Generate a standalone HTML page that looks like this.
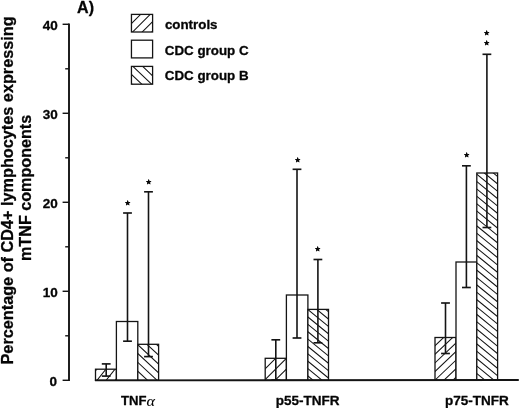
<!DOCTYPE html>
<html><head><meta charset="utf-8"><title>A)</title>
<style>
html,body{margin:0;padding:0;background:#fff;}
body{width:520px;height:408px;overflow:hidden;}
svg{display:block;will-change:transform;opacity:0.999;}
text{font-family:"Liberation Sans",Arial,Helvetica,sans-serif;font-weight:bold;fill:#050505;stroke:#050505;stroke-width:0.3px;stroke-linejoin:round;}
</style></head><body>
<svg width="520" height="408" viewBox="0 0 520 408">
<rect width="520" height="408" fill="#fff"/>

<g stroke="#141414" stroke-width="1.7" fill="none" stroke-linecap="butt">
<path d="M69.00,23.55 V381.10" stroke-width="1.9"/>
<path d="M62.60,380.30 H69.00" stroke-width="1.45"/>
<path d="M62.60,291.30 H69.00" stroke-width="1.45"/>
<path d="M62.60,202.30 H69.00" stroke-width="1.45"/>
<path d="M62.60,113.30 H69.00" stroke-width="1.45"/>
<path d="M62.60,24.30 H69.00" stroke-width="1.45"/>
<path d="M65.20,335.80 H69.00" stroke-width="1.4"/>
<path d="M65.20,246.80 H69.00" stroke-width="1.4"/>
<path d="M65.20,157.80 H69.00" stroke-width="1.4"/>
<path d="M65.20,68.80 H69.00" stroke-width="1.4"/>
</g>
<text x="57.0" y="386.05" font-size="13.5" text-anchor="end">0</text>
<text x="57.9" y="297.05" font-size="13.5" text-anchor="end">10</text>
<text x="57.9" y="208.05" font-size="13.5" text-anchor="end">20</text>
<text x="57.9" y="119.05" font-size="13.5" text-anchor="end">30</text>
<text x="57.9" y="30.05" font-size="13.5" text-anchor="end">40</text>
<rect x="95.50" y="369.20" width="20.90" height="11.10" fill="#fff" stroke="none"/>
<clipPath id="c1"><rect x="95.50" y="369.20" width="20.90" height="11.10"/></clipPath>
<path clip-path="url(#c1)" d="M93.50,373.32 L118.40,342.20 M93.50,384.70 L118.40,353.57 M93.50,396.07 L118.40,364.95 M93.50,407.45 L118.40,376.32" stroke="#141414" stroke-width="1.05" fill="none"/>
<rect x="95.50" y="369.20" width="20.90" height="11.10" fill="none" stroke="#141414" stroke-width="1.30"/>
<rect x="116.40" y="321.50" width="21.40" height="58.80" fill="#fff" stroke="none"/>
<rect x="116.40" y="321.50" width="21.40" height="58.80" fill="none" stroke="#141414" stroke-width="1.30"/>
<rect x="137.80" y="344.30" width="20.80" height="36.00" fill="#fff" stroke="none"/>
<clipPath id="c2"><rect x="137.80" y="344.30" width="20.80" height="36.00"/></clipPath>
<path clip-path="url(#c2)" d="M135.80,378.17 L160.60,401.24 M135.80,369.34 L160.60,392.40 M135.80,360.50 L160.60,383.57 M135.80,351.67 L160.60,374.73 M135.80,342.83 L160.60,365.90 M135.80,334.00 L160.60,357.06 M135.80,325.16 L160.60,348.23" stroke="#141414" stroke-width="1.05" fill="none"/>
<rect x="137.80" y="344.30" width="20.80" height="36.00" fill="none" stroke="#141414" stroke-width="1.30"/>
<g stroke="#141414" fill="none">
<path d="M106.20,363.90 V376.10" stroke-width="1.6"/>
<path d="M101.80,363.90 H110.60" stroke-width="1.65"/>
<path d="M101.80,376.10 H110.60" stroke-width="1.65"/>
</g>
<g stroke="#141414" fill="none">
<path d="M127.50,213.00 V341.20" stroke-width="1.6"/>
<path d="M123.10,213.00 H131.90" stroke-width="1.65"/>
<path d="M123.10,341.20 H131.90" stroke-width="1.65"/>
</g>
<text x="127.50" y="204.90" font-size="5.6" text-anchor="middle" style="stroke-width:0.45px">★</text>
<g stroke="#141414" fill="none">
<path d="M148.50,191.80 V356.60" stroke-width="1.6"/>
<path d="M144.10,191.80 H152.90" stroke-width="1.65"/>
<path d="M144.10,356.60 H152.90" stroke-width="1.65"/>
</g>
<text x="148.50" y="183.70" font-size="5.6" text-anchor="middle" style="stroke-width:0.45px">★</text>
<rect x="265.20" y="358.30" width="21.20" height="22.00" fill="#fff" stroke="none"/>
<clipPath id="c3"><rect x="265.20" y="358.30" width="21.20" height="22.00"/></clipPath>
<path clip-path="url(#c3)" d="M263.20,360.10 L288.40,334.90 M263.20,370.80 L288.40,345.60 M263.20,381.50 L288.40,356.30 M263.20,392.20 L288.40,367.00 M263.20,402.90 L288.40,377.70" stroke="#141414" stroke-width="1.05" fill="none"/>
<rect x="265.20" y="358.30" width="21.20" height="22.00" fill="none" stroke="#141414" stroke-width="1.30"/>
<rect x="286.40" y="295.00" width="21.50" height="85.30" fill="#fff" stroke="none"/>
<rect x="286.40" y="295.00" width="21.50" height="85.30" fill="none" stroke="#141414" stroke-width="1.30"/>
<rect x="307.90" y="309.40" width="20.60" height="70.90" fill="#fff" stroke="none"/>
<clipPath id="c4"><rect x="307.90" y="309.40" width="20.60" height="70.90"/></clipPath>
<path clip-path="url(#c4)" d="M305.90,374.34 L330.50,394.52 M305.90,366.96 L330.50,387.14 M305.90,359.58 L330.50,379.76 M305.90,352.20 L330.50,372.38 M305.90,344.82 L330.50,365.00 M305.90,337.44 L330.50,357.62 M305.90,330.06 L330.50,350.24 M305.90,322.68 L330.50,342.86 M305.90,315.30 L330.50,335.48 M305.90,307.92 L330.50,328.10 M305.90,300.54 L330.50,320.72 M305.90,293.16 L330.50,313.34" stroke="#141414" stroke-width="1.05" fill="none"/>
<rect x="307.90" y="309.40" width="20.60" height="70.90" fill="none" stroke="#141414" stroke-width="1.30"/>
<g stroke="#141414" fill="none">
<path d="M275.80,339.80 V380.00" stroke-width="1.6"/>
<path d="M271.40,339.80 H280.20" stroke-width="1.65"/>
<path d="M271.40,380.00 H280.20" stroke-width="1.65"/>
</g>
<g stroke="#141414" fill="none">
<path d="M297.00,169.30 V338.00" stroke-width="1.6"/>
<path d="M292.60,169.30 H301.40" stroke-width="1.65"/>
<path d="M292.60,338.00 H301.40" stroke-width="1.65"/>
</g>
<text x="297.00" y="161.90" font-size="5.6" text-anchor="middle" style="stroke-width:0.45px">★</text>
<g stroke="#141414" fill="none">
<path d="M317.90,259.50 V342.80" stroke-width="1.6"/>
<path d="M313.50,259.50 H322.30" stroke-width="1.65"/>
<path d="M313.50,342.80 H322.30" stroke-width="1.65"/>
</g>
<text x="317.90" y="250.70" font-size="5.6" text-anchor="middle" style="stroke-width:0.45px">★</text>
<rect x="435.00" y="337.50" width="21.00" height="42.80" fill="#fff" stroke="none"/>
<clipPath id="c5"><rect x="435.00" y="337.50" width="21.00" height="42.80"/></clipPath>
<path clip-path="url(#c5)" d="M433.00,339.01 L458.00,315.26 M433.00,347.61 L458.00,323.86 M433.00,356.20 L458.00,332.45 M433.00,364.80 L458.00,341.05 M433.00,373.40 L458.00,349.65 M433.00,382.00 L458.00,358.25 M433.00,390.59 L458.00,366.84 M433.00,399.19 L458.00,375.44" stroke="#141414" stroke-width="1.05" fill="none"/>
<rect x="435.00" y="337.50" width="21.00" height="42.80" fill="none" stroke="#141414" stroke-width="1.30"/>
<rect x="456.00" y="262.00" width="20.80" height="118.30" fill="#fff" stroke="none"/>
<rect x="456.00" y="262.00" width="20.80" height="118.30" fill="none" stroke="#141414" stroke-width="1.30"/>
<rect x="476.80" y="173.00" width="20.80" height="207.30" fill="#fff" stroke="none"/>
<clipPath id="c6"><rect x="476.80" y="173.00" width="20.80" height="207.30"/></clipPath>
<path clip-path="url(#c6)" d="M474.80,379.20 L499.60,399.54 M474.80,371.82 L499.60,392.16 M474.80,364.44 L499.60,384.78 M474.80,357.06 L499.60,377.40 M474.80,349.68 L499.60,370.02 M474.80,342.30 L499.60,362.64 M474.80,334.92 L499.60,355.26 M474.80,327.54 L499.60,347.88 M474.80,320.16 L499.60,340.50 M474.80,312.78 L499.60,333.12 M474.80,305.40 L499.60,325.74 M474.80,298.02 L499.60,318.36 M474.80,290.64 L499.60,310.98 M474.80,283.26 L499.60,303.60 M474.80,275.88 L499.60,296.22 M474.80,268.50 L499.60,288.84 M474.80,261.12 L499.60,281.46 M474.80,253.74 L499.60,274.08 M474.80,246.36 L499.60,266.70 M474.80,238.98 L499.60,259.32 M474.80,231.60 L499.60,251.94 M474.80,224.22 L499.60,244.56 M474.80,216.84 L499.60,237.18 M474.80,209.46 L499.60,229.80 M474.80,202.08 L499.60,222.42 M474.80,194.70 L499.60,215.04 M474.80,187.32 L499.60,207.66 M474.80,179.94 L499.60,200.28 M474.80,172.56 L499.60,192.90 M474.80,165.18 L499.60,185.52 M474.80,157.80 L499.60,178.14" stroke="#141414" stroke-width="1.05" fill="none"/>
<rect x="476.80" y="173.00" width="20.80" height="207.30" fill="none" stroke="#141414" stroke-width="1.30"/>
<g stroke="#141414" fill="none">
<path d="M445.50,303.00 V353.50" stroke-width="1.6"/>
<path d="M441.10,303.00 H449.90" stroke-width="1.65"/>
<path d="M441.10,353.50 H449.90" stroke-width="1.65"/>
</g>
<g stroke="#141414" fill="none">
<path d="M466.40,165.80 V287.50" stroke-width="1.6"/>
<path d="M462.00,165.80 H470.80" stroke-width="1.65"/>
<path d="M462.00,287.50 H470.80" stroke-width="1.65"/>
</g>
<text x="466.40" y="156.90" font-size="5.6" text-anchor="middle" style="stroke-width:0.45px">★</text>
<g stroke="#141414" fill="none">
<path d="M486.90,54.30 V227.50" stroke-width="1.6"/>
<path d="M482.50,54.30 H491.30" stroke-width="1.65"/>
<path d="M482.50,227.50 H491.30" stroke-width="1.65"/>
</g>
<text x="486.90" y="44.90" font-size="5.6" text-anchor="middle" style="stroke-width:0.45px">★</text>
<text x="486.90" y="35.40" font-size="5.6" text-anchor="middle" style="stroke-width:0.45px">★</text>
<path d="M94.90,380.40 L518.80,379.95" stroke="#141414" stroke-width="1.85" fill="none"/>
<text x="121.1" y="404.6" font-size="13.1">TNF</text>
<text transform="translate(146.6,406.1) scale(1.15,1)" font-family="'Liberation Serif','DejaVu Serif',serif" font-weight="normal" font-style="italic" font-size="14" stroke-width="0.15" style="font-family:'Liberation Serif','DejaVu Serif',serif;font-weight:normal;font-style:italic;stroke-width:0.1px">α</text>
<text x="275.8" y="404.5" font-size="13.5">p55-TNFR</text>
<text x="444.9" y="404.5" font-size="13.5">p75-TNFR</text>
<rect x="131.45" y="14.40" width="21.15" height="17.60" fill="#fff"/>
<clipPath id="c7"><rect x="131.45" y="14.40" width="21.15" height="17.60"/></clipPath>
<path clip-path="url(#c7)" d="M129.45,15.95 L154.60,-9.20 M129.45,25.55 L154.60,0.40 M129.45,35.15 L154.60,10.00 M129.45,44.75 L154.60,19.60 M129.45,54.35 L154.60,29.20" stroke="#141414" stroke-width="1.05" fill="none"/>
<rect x="131.45" y="14.40" width="21.15" height="17.60" fill="none" stroke="#141414" stroke-width="1.3"/>
<rect x="131.45" y="40.20" width="21.15" height="17.70" fill="#fff"/>
<rect x="131.45" y="40.20" width="21.15" height="17.70" fill="none" stroke="#141414" stroke-width="1.3"/>
<rect x="131.45" y="66.40" width="21.15" height="17.80" fill="#fff"/>
<clipPath id="c8"><rect x="131.45" y="66.40" width="21.15" height="17.80"/></clipPath>
<path clip-path="url(#c8)" d="M129.45,81.76 L154.60,105.66 M129.45,72.45 L154.60,96.34 M129.45,63.14 L154.60,87.03 M129.45,53.83 L154.60,77.72 M129.45,44.52 L154.60,68.41" stroke="#141414" stroke-width="1.05" fill="none"/>
<rect x="131.45" y="66.40" width="21.15" height="17.80" fill="none" stroke="#141414" stroke-width="1.3"/>
<text x="164.9" y="28.9" font-size="13.35">controls</text>
<text x="164.8" y="54.6" font-size="13.35">CDC group C</text>
<text x="164.8" y="80.1" font-size="13.35">CDC group B</text>
<text x="77.1" y="12.9" font-size="16">A)</text>
<text transform="translate(12.8,190.4) rotate(-90)" font-size="16.25" text-anchor="middle">Percentage of CD4+ lymphocytes expressing</text>
<text transform="translate(31.3,187.9) rotate(-90)" font-size="16.15" text-anchor="middle">mTNF components</text>
</svg></body></html>
